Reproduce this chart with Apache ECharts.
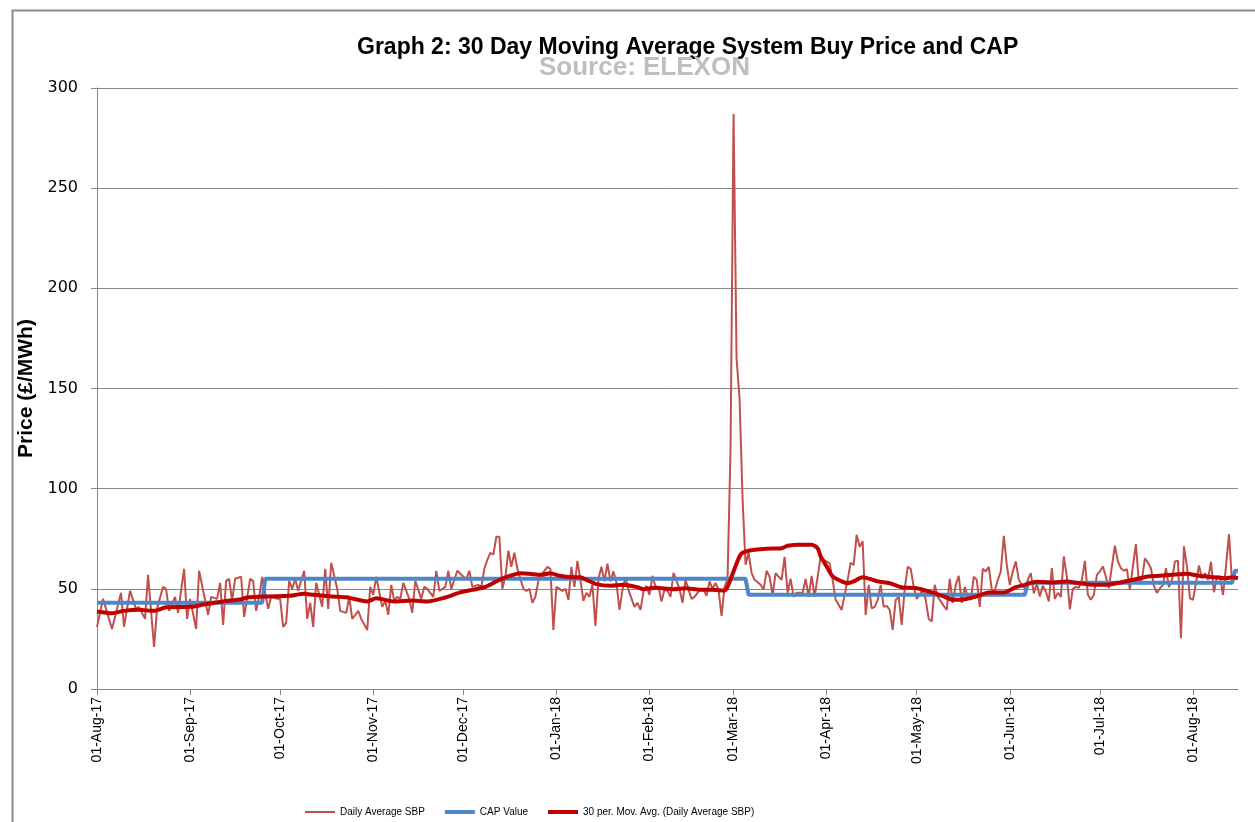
<!DOCTYPE html>
<html>
<head>
<meta charset="utf-8">
<script src="https://cdn.jsdelivr.net/npm/echarts@6/dist/echarts.min.js"></script>
<style>
html,body{margin:0;padding:0;background:#fff;}
#chart{width:1255px;height:822px;}
</style>
</head>
<body>
<div id="chart"></div>
<script>
// ---- Data (x = days since 01-Aug-17) ----
const startDate = Date.UTC(2017, 7, 1);
const dayCount = 381; // 01-Aug-17 .. 16-Aug-18
const monthNames = ['Jan','Feb','Mar','Apr','May','Jun','Jul','Aug','Sep','Oct','Nov','Dec'];

const yTicks = [0, 50, 100, 150, 200, 250, 300];

// Daily Average SBP (£/MWh), [day, value]
const dailySBP = [
[0,31],[2,45],[5,30],[6,36],[8,48],[9,31],[11,49],[13,40],[14,41],[16,35],[17,57],[19,21],[20,40],[22,51],[23,50],[24,39],[26,46],[27,38],[29,60],[30,35],[31,45],[33,30],[34,59],[37,37],[38,46],[40,45],[41,53],[42,32],[43,54],[44,55],[45,44],[46,55],[48,56],[49,36],[51,55],[52,54],[53,39],[54,46],[55,56],[57,40],[58,46],[60,45],[61,45],[62,31],[63,33],[64,54],[65,50],[66,55],[67,49],[69,59],[70,35],[71,43],[72,31],[73,53],[75,41],[76,60],[77,40],[78,63],[80,50],[81,39],[83,38],[84,46],[85,35],[87,39],[88,35],[90,29.5],[91,51],[92,47],[93,56],[95,41],[96,44],[97,37],[98,52],[99,44],[100,46],[101,45],[102,53],[104,45],[105,38],[106,54],[108,45],[109,51],[110,50],[112,46],[113,59],[114,49],[116,51],[117,59],[118,50],[120,59],[122,56],[123,55],[124,59],[125,51],[127,52],[128,51],[129,60],[130,64.5],[131,68],[132,67],[133,76],[134,76],[135,50],[136,56],[137,69],[138,61],[139,68],[140,60],[142,50],[143,49],[144,50],[145,43],[146,46],[147,54],[148,57],[150,61],[151,60],[152,29.5],[153,51],[155,49],[156,50],[157,44.5],[158,61],[159,51],[160,64],[161,54.5],[162,44],[163,48],[164,46],[165,52],[166,31.5],[167,55],[168,61],[169,53.7],[170,62.5],[171,53.7],[172,58.7],[173,53],[174,39.5],[175,49.5],[176,55.7],[177,49.5],[179,41],[180,43],[181,39.5],[182,48.7],[183,51.5],[184,47],[185,56.5],[186,51],[187,51],[188,43.7],[189,49.5],[190,49],[191,46],[192,58],[194,50],[195,43],[196,54.5],[198,45],[199,46],[201,50],[202,49.5],[203,46.5],[204,53.7],[205,50],[206,53],[207,49.5],[208,36.5],[209,51],[210,55],[211,120],[212,287],[213,165],[214,145],[215,95],[216,62],[217,68],[218,58],[219,54.5],[221,52],[222,49.5],[223,59],[224,56],[225,47],[226,57.8],[227,56],[228,54.5],[229,66],[230,48],[231,55],[232,46],[233,48],[235,48],[236,55],[237,46],[238,56.5],[239,46],[240,56],[241,66],[242,64.5],[244,62.8],[245,54.5],[246,44.5],[248,39.5],[249,47],[250,54.5],[251,63],[252,62],[253,77],[254,71],[255,73.7],[256,37],[257,52],[258,40.3],[259,41],[260,44.5],[261,52],[262,41],[263,41.5],[264,39.5],[265,29.5],[266,44.5],[267,46],[268,32],[269,50],[270,61],[271,60],[272,51],[273,45],[275,49.5],[276,44.5],[277,35],[278,33.7],[279,52],[280,46],[282,41.5],[283,39.5],[284,55],[285,43],[286,52],[287,56.5],[288,43],[289,51],[290,46],[291,44.5],[292,56],[293,54.5],[294,41],[295,60],[296,58.7],[297,61],[298,49.5],[299,49],[300,54.5],[301,58.7],[302,76.5],[303,62],[304,52],[305,58.7],[306,63.7],[307,54.5],[308,52],[309,50.3],[310,54.5],[311,57.8],[312,47.8],[313,52.8],[314,46.2],[315,51.5],[316,48.7],[317,43.7],[318,60.3],[319,45],[320,48],[321,46],[322,66.2],[323,56],[324,39.8],[325,50],[326,51],[327,50.5],[328,54.5],[329,64],[330,47],[331,44.5],[332,47],[333,57],[334,58.7],[335,61.2],[336,56],[337,50.3],[338,61.2],[339,71.5],[340,63.7],[341,60.3],[342,59],[343,59.8],[344,49.5],[345,61.2],[346,72.3],[347,52.8],[348,54.5],[349,65.3],[350,63],[351,60.3],[352,51.5],[353,48],[354,50.3],[355,52],[356,60.3],[357,50.8],[358,54.5],[359,63.7],[360,64],[361,25.3],[362,71.2],[363,61.2],[364,45.3],[365,44.5],[366,52.8],[367,61.7],[368,55.3],[369,57.8],[370,54.5],[371,63.5],[372,48.3],[373,56.2],[374,56.2],[375,47],[376,61.2],[377,77.3],[378,53.7],[379,56.2]
];

// CAP Value (£/MWh), [day, value]
const capValue = [
[0,43],[55,43],[56,55],[216,55],[217,47],[309,47],[310,53],[378,53],[379,59],[380,59]
];

// 30 per. Mov. Avg. (Daily Average SBP), [day, value]
const movAvg = [
[0,38.7],[5,37.8],[9,39],[14,39.5],[19,39],[23,40.8],[31,41],[36,42.3],[42,43.7],[48,44.8],[50,45.7],[57,46.2],[64,46.5],[69,47.5],[72,47],[78,46.2],[83,45.8],[90,43.7],[93,45.3],[99,43.7],[105,44.2],[110,43.7],[116,45.7],[121,48.2],[125,49.5],[129,50.8],[133,53.7],[136,55.7],[141,57.8],[144,57.5],[148,57],[151,57.8],[154,56.5],[158,55.8],[161,55.8],[163,54.5],[166,52.5],[171,51.5],[175,52],[180,50.8],[182,49.8],[186,50.5],[192,49.8],[196,50.3],[201,49.5],[205,49.5],[209,49.2],[210,51],[212,58.7],[214,66.2],[215,68],[217,69],[219,69.5],[223,70],[228,70.3],[230,71.5],[234,72],[238,72],[240,70.3],[241,66.2],[243,61.2],[245,56.2],[248,53.7],[250,52.8],[252,53.7],[255,55.8],[260,53.7],[264,52.8],[268,50.8],[273,50.3],[277,48.7],[282,46.2],[285,44.5],[289,44.8],[293,46.2],[297,48.2],[302,48.2],[306,50.8],[309,52],[313,53.5],[318,53.2],[323,53.7],[327,52.8],[332,52],[336,52],[341,53.2],[345,54.5],[350,56.2],[354,56.5],[358,57],[363,57.5],[367,56.5],[372,55.8],[376,55.3],[378,55.8],[380,55.3]
];

const seriesNames = ['Daily Average SBP', 'CAP Value', '30 per. Mov. Avg. (Daily Average SBP)'];

// ---- Category labels (dates) ----
const categories = [];
for (let i = 0; i < dayCount; i++) {
  const d = new Date(startDate + i * 86400000);
  const dd = String(d.getUTCDate()).padStart(2, '0');
  categories.push(dd + '-' + monthNames[d.getUTCMonth()] + '-' + String(d.getUTCFullYear()).slice(2));
}
const isMonthStart = (idx, val) => String(val).slice(0, 3) === '01-';

const chart = echarts.init(document.getElementById('chart'), null, {renderer: 'canvas'});
const GRAY = '#868686';
chart.setOption({
  animation: false,
  backgroundColor: '#fff',
  graphic: [{
    type: 'rect', left: 10, top: 8,
    shape: {width: 1300, height: 900},
    style: {fill: 'none', stroke: '#8c8c8c', lineWidth: 2},
    silent: true
  }],
  title: [{
    text: 'Graph 2: 30 Day Moving Average System Buy Price and CAP',
    left: 352, top: 31,
    textStyle: {fontFamily: 'Liberation Sans', fontSize: 23, fontWeight: 'bold', color: '#000'}
  }, {
    text: 'Source: ELEXON',
    left: 534, top: 50,
    textStyle: {fontFamily: 'Liberation Sans', fontSize: 26, fontWeight: 'bold', color: '#bfbfbf'}
  }],
  legend: {
    data: [
      {name: seriesNames[0], icon: 'path://M0,0H30V2H0Z'},
      {name: seriesNames[1], icon: 'path://M0,0H30V4H0Z'},
      {name: seriesNames[2], icon: 'path://M0,0H30V4H0Z'}
    ],
    left: 300, top: 802,
    itemWidth: 30, itemHeight: 4, itemGap: 20,
    textStyle: {fontFamily: 'Liberation Sans', fontSize: 10, color: '#000'}
  },
  grid: {left: 97, right: 17, top: 88, bottom: 133, containLabel: false},
  xAxis: {
    type: 'category',
    data: categories,
    boundaryGap: false,
    axisLine: {lineStyle: {color: GRAY, width: 1}},
    axisTick: {show: true, interval: isMonthStart, length: 6, lineStyle: {color: GRAY}},
    axisLabel: {
      interval: isMonthStart, rotate: 90, margin: 8,
      fontFamily: 'Liberation Sans', fontSize: 14, color: '#000'
    },
    splitLine: {show: false}
  },
  yAxis: {
    type: 'value',
    min: yTicks[0], max: yTicks[yTicks.length - 1], interval: 50,
    name: 'Price (£/MWh)',
    nameLocation: 'middle', nameRotate: 90, nameGap: 57,
    nameTextStyle: {fontFamily: 'Liberation Sans', fontSize: 21, fontWeight: 'bold', color: '#000'},
    axisLine: {show: true, lineStyle: {color: GRAY, width: 1}},
    axisTick: {show: true, length: 6, lineStyle: {color: GRAY}},
    axisLabel: {margin: 19, fontFamily: 'DejaVu Sans', fontSize: 16, color: '#000'},
    splitLine: {lineStyle: {color: GRAY, width: 1}}
  },
  series: [{
    name: seriesNames[0], type: 'line', data: dailySBP,
    symbol: 'none', connectNulls: true,
    lineStyle: {color: '#c0504d', width: 2},
    itemStyle: {color: '#c0504d'},
    z: 2
  }, {
    name: seriesNames[1], type: 'line', data: capValue,
    symbol: 'none',
    lineStyle: {color: '#4f86c6', width: 4},
    itemStyle: {color: '#4f86c6'},
    z: 3
  }, {
    name: seriesNames[2], type: 'line', data: movAvg,
    symbol: 'none', smooth: 0.25,
    lineStyle: {color: '#c00000', width: 4},
    itemStyle: {color: '#c00000'},
    z: 4
  }]
});
</script>
</body>
</html>
